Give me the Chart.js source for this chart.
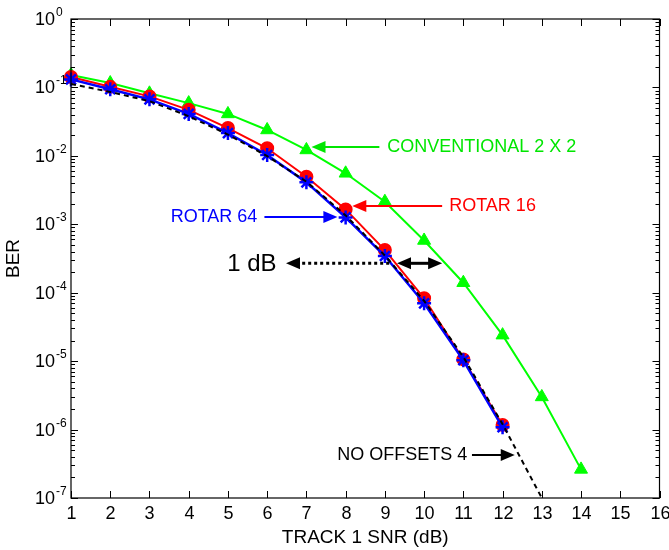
<!DOCTYPE html>
<html>
<head>
<meta charset="utf-8">
<script src="https://cdn.jsdelivr.net/npm/chart.js@4"></script>
<style>
  body { margin: 0; background: #fff; }
  #wrap { width: 669px; height: 550px; }
</style>
</head>
<body>
<div id="wrap"><canvas id="berChart" width="669" height="550"></canvas></div>
<script>
// values
const snr = [1, 2, 3, 4, 5, 6, 7, 8, 9, 10, 11, 12, 13, 14];
const conventional = [0.152, 0.116, 0.082, 0.059, 0.041, 0.0239, 0.0122, 0.00556, 0.00214, 5.8e-4, 1.4e-4, 2.4e-5, 3.0e-6, 2.62e-7];
const rotar16 = [0.142, 0.102, 0.074, 0.047, 0.0255, 0.0129, 0.00496, 0.00165, 4.2e-4, 8.3e-5, 1.06e-5, 1.17e-6];
const rotar64 = [0.131, 0.094, 0.067, 0.041, 0.0215, 0.0103, 0.0041, 0.00126, 3.44e-4, 7.0e-5, 1.03e-5, 1.08e-6];
const noOffsets = [0.112, 0.086, 0.063, 0.038, 0.0205, 0.0099, 0.0042, 0.00135, 3.5e-4, 7.6e-5, 1.15e-5, 1.2e-6, 1.0e-7];

const xTicks = [1, 2, 3, 4, 5, 6, 7, 8, 9, 10, 11, 12, 13, 14, 15, 16];
const yExponents = [0, -1, -2, -3, -4, -5, -6, -7];

const FONT = '"Liberation Sans", Arial, Helvetica, sans-serif';

function pts(ys) {
  return ys.map((y, i) => ({ x: snr[i], y: y }));
}

// text labels and arrows, positioned in data units
const notes = [
  { text: "CONVENTIONAL 2 X 2", color: "#00e600", tx: 9.06, ty: 0.0135, align: "left",
    from: [8.86, 0.0135], to: [7.13, 0.0135] },
  { text: "ROTAR 16", color: "#ff0000", tx: 10.64, ty: 1.85e-3, align: "left",
    from: [10.46, 1.85e-3], to: [8.17, 1.85e-3] },
  { text: "ROTAR 64", color: "#0000ff", tx: 5.75, ty: 1.28e-3, align: "right",
    from: [5.93, 1.28e-3], to: [7.79, 1.28e-3] },
  { text: "NO OFFSETS 4", color: "#000000", tx: 11.1, ty: 4.24e-7, align: "right",
    from: [11.22, 4.24e-7], to: [12.31, 4.24e-7] },
];

const frameAndNotes = {
  id: "frameAndNotes",
  afterDraw(chart) {
    const ctx = chart.ctx;
    const xs = chart.scales.x, ys = chart.scales.y;
    const a = chart.chartArea;
    ctx.save();

    // box
    ctx.strokeStyle = "#000";
    ctx.lineWidth = 1.2;
    ctx.strokeRect(a.left, a.top, a.right - a.left, a.bottom - a.top);

    // x ticks + labels
    ctx.lineWidth = 1;
    ctx.fillStyle = "#000";
    ctx.font = "18px " + FONT;
    ctx.textAlign = "center";
    ctx.textBaseline = "middle";
    xTicks.forEach(t => {
      const px = Math.round(xs.getPixelForValue(t)) + 0.5;
      ctx.beginPath();
      ctx.moveTo(px, a.bottom); ctx.lineTo(px, a.bottom - 7);
      ctx.moveTo(px, a.top); ctx.lineTo(px, a.top + 7);
      ctx.stroke();
      ctx.fillText(String(t), px, a.bottom + 16);
    });

    // y ticks (major + minor) + labels
    yExponents.forEach(e => {
      const py = Math.round(ys.getPixelForValue(Math.pow(10, e))) + 0.5;
      ctx.beginPath();
      ctx.moveTo(a.left, py); ctx.lineTo(a.left + 7, py);
      ctx.moveTo(a.right, py); ctx.lineTo(a.right - 7, py);
      ctx.stroke();
      if (e > -7) {
        for (let m = 2; m <= 9; m++) {
          const my = Math.round(ys.getPixelForValue(m * Math.pow(10, e - 1))) + 0.5;
          ctx.beginPath();
          ctx.moveTo(a.left, my); ctx.lineTo(a.left + 4, my);
          ctx.moveTo(a.right, my); ctx.lineTo(a.right - 4, my);
          ctx.stroke();
        }
      }
      ctx.font = "18px " + FONT;
      ctx.textAlign = "right";
      ctx.textBaseline = "middle";
      ctx.fillText("10", a.left - 16, py + 1);
      ctx.font = "12px " + FONT;
      ctx.textAlign = "left";
      ctx.fillText(String(e), a.left - 15, py - 7);
    });

    // axis titles
    ctx.font = "19px " + FONT;
    ctx.textAlign = "center";
    ctx.textBaseline = "middle";
    ctx.fillText("TRACK 1 SNR (dB)", (a.left + a.right) / 2, a.bottom + 40);
    ctx.save();
    ctx.translate(14, (a.top + a.bottom) / 2);
    ctx.rotate(-Math.PI / 2);
    ctx.fillText("BER", 0, 0);
    ctx.restore();

    // annotations
    notes.forEach(n => {
      ctx.font = "18px " + FONT;
      ctx.fillStyle = n.color;
      ctx.textAlign = n.align;
      ctx.textBaseline = "middle";
      ctx.fillText(n.text, xs.getPixelForValue(n.tx), ys.getPixelForValue(n.ty));
      arrow(ctx, xs.getPixelForValue(n.from[0]), ys.getPixelForValue(n.from[1]),
        xs.getPixelForValue(n.to[0]), ys.getPixelForValue(n.to[1]), n.color, false, false, 2);
    });

    // 1 dB marker
    const dbY = ys.getPixelForValue(2.69e-4);
    ctx.font = "24px " + FONT;
    ctx.fillStyle = "#000";
    ctx.textAlign = "right";
    ctx.fillText("1 dB", xs.getPixelForValue(6.24), dbY + 1);
    arrow(ctx, xs.getPixelForValue(9.11), dbY, xs.getPixelForValue(6.48), dbY, "#000", true, false, 3);
    arrow(ctx, xs.getPixelForValue(9.31), dbY, xs.getPixelForValue(10.46), dbY, "#000", false, true, 3);

    ctx.restore();
  }
};

function arrow(ctx, x1, y1, x2, y2, color, dotted, both, width) {
  const len = 14, half = 6;
  const ang = Math.atan2(y2 - y1, x2 - x1);
  ctx.save();
  ctx.strokeStyle = color;
  ctx.fillStyle = color;
  ctx.lineWidth = width;
  ctx.setLineDash(dotted ? [3, 3] : []);
  ctx.beginPath();
  const sx = both ? x1 + Math.cos(ang) * len * 0.8 : x1;
  const sy = both ? y1 + Math.sin(ang) * len * 0.8 : y1;
  ctx.moveTo(sx, sy);
  ctx.lineTo(x2 - Math.cos(ang) * len * 0.8, y2 - Math.sin(ang) * len * 0.8);
  ctx.stroke();
  ctx.setLineDash([]);
  head(ctx, x2, y2, ang, len, half);
  if (both) head(ctx, x1, y1, ang + Math.PI, len, half);
  ctx.restore();
}

function head(ctx, x, y, ang, len, half) {
  ctx.beginPath();
  ctx.moveTo(x, y);
  ctx.lineTo(x - Math.cos(ang) * len - Math.sin(ang) * half, y - Math.sin(ang) * len + Math.cos(ang) * half);
  ctx.lineTo(x - Math.cos(ang) * len + Math.sin(ang) * half, y - Math.sin(ang) * len - Math.cos(ang) * half);
  ctx.closePath();
  ctx.fill();
}

new Chart(document.getElementById("berChart"), {
  type: "line",
  data: {
    datasets: [
      {
        label: "CONVENTIONAL 2 X 2",
        data: pts(conventional),
        borderColor: "#00ff00",
        backgroundColor: "#00ff00",
        borderWidth: 2,
        pointStyle: "triangle",
        pointRadius: 7.5,
        pointBorderWidth: 1,
        order: 4,
      },
      {
        label: "ROTAR 16",
        data: pts(rotar16),
        borderColor: "#ff0000",
        backgroundColor: "#ff0000",
        borderWidth: 2,
        pointStyle: "circle",
        pointRadius: 6,
        order: 3,
      },
      {
        label: "ROTAR 64",
        data: pts(rotar64),
        borderColor: "#0000ff",
        backgroundColor: "#0000ff",
        borderWidth: 2.5,
        pointStyle: "star",
        pointRadius: 7,
        pointBorderWidth: 2.5,
        order: 2,
      },
      {
        label: "NO OFFSETS 4",
        data: pts(noOffsets),
        borderColor: "#000000",
        borderWidth: 2,
        borderDash: [5, 4],
        pointRadius: 0,
        order: 1,
      },
    ],
  },
  options: {
    responsive: false,
    animation: false,
    devicePixelRatio: 1,
    clip: false,
    layout: { padding: { left: 71, top: 19, right: 8, bottom: 52 } },
    elements: { line: { tension: 0 } },
    scales: {
      x: { type: "linear", min: 1, max: 16, display: false },
      y: { type: "logarithmic", min: 1e-7, max: 1, display: false },
    },
    plugins: {
      legend: { display: false },
      tooltip: { enabled: false },
    },
  },
  plugins: [frameAndNotes],
});
</script>
</body>
</html>
